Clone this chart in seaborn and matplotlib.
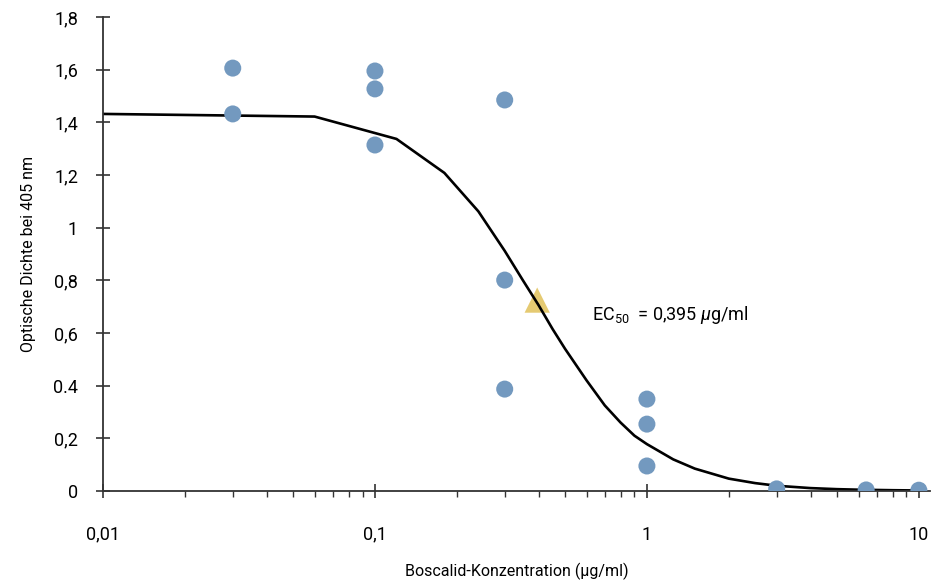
import matplotlib
matplotlib.use("Agg")
import matplotlib.pyplot as plt
import matplotlib.ticker as mticker
import seaborn as sns
import pandas as pd

# measured optical density per concentration (µg/ml)
conc = [0.03, 0.03, 0.1, 0.1, 0.1, 0.3, 0.3, 0.3, 1, 1, 1, 3, 6.4, 10]
od = [1.606, 1.432, 1.595, 1.527, 1.314, 1.485, 0.801, 0.387,
      0.349, 0.254, 0.095, 0.008, 0.004, 0.003]

# fitted dose-response curve
fit_x = [0.01, 0.06, 0.12, 0.18, 0.24, 0.30, 0.35, 0.40, 0.45, 0.50,
         0.60, 0.70, 0.80, 0.90, 1.0, 1.25, 1.5, 2.0, 2.5, 3.0,
         4.0, 5.0, 6.0, 8.0, 10.0]
fit_y = [1.432, 1.422, 1.337, 1.208, 1.062, 0.912, 0.80, 0.705, 0.615, 0.54,
         0.42, 0.325, 0.26, 0.21, 0.178, 0.12, 0.085, 0.047, 0.030, 0.020,
         0.011, 0.007, 0.005, 0.003, 0.002]

ec50_x = [0.395]
ec50_y = [0.725]

y_ticks = [0, 0.2, 0.4, 0.6, 0.8, 1, 1.2, 1.4, 1.6, 1.8]
y_labels = ["0", "0,2", "0.4", "0,6", "0,8", "1", "1,2", "1,4", "1,6", "1,8"]
x_ticks = [0.01, 0.1, 1, 10]
x_labels = ["0,01", "0,1", "1", "10"]

sns.set_style("ticks")
plt.rcParams["font.family"] = ["Roboto", "DejaVu Sans"]
plt.rcParams["mathtext.fontset"] = "custom"
plt.rcParams["mathtext.rm"] = "Roboto"
plt.rcParams["mathtext.it"] = "Roboto:italic"

points = pd.DataFrame({"conc": conc, "od": od})
curve = pd.DataFrame({"conc": fit_x, "od": fit_y})

fig = plt.figure(figsize=(9.32, 5.81), dpi=100)
ax = fig.add_axes([0.1105, 0.1549, 0.8875, 0.8158])

sns.lineplot(data=curve, x="conc", y="od", color="black", linewidth=1.9,
             ax=ax, zorder=2)
sns.scatterplot(data=points, x="conc", y="od", color="#7399bf", s=150,
                edgecolor="none", ax=ax, zorder=3)
sns.scatterplot(x=ec50_x, y=ec50_y, color="#e5ca72", marker="^", s=330,
                edgecolor="none", ax=ax, zorder=1)

ax.set_xscale("log")
ax.set_xlim(0.01, 11)
ax.set_ylim(0, 1.8)
ax.set_xticks(x_ticks)
ax.set_xticklabels(x_labels)
ax.xaxis.set_minor_locator(mticker.LogLocator(base=10, subs=range(2, 10)))
ax.xaxis.set_minor_formatter(mticker.NullFormatter())
ax.set_yticks(y_ticks)
ax.set_yticklabels(y_labels)

for side in ["top", "right"]:
    ax.spines[side].set_visible(False)
for side in ["left", "bottom"]:
    ax.spines[side].set_color("#333333")
    ax.spines[side].set_linewidth(1.3)

ax.tick_params(axis="y", which="major", direction="inout", length=10,
               width=1.2, pad=13, labelsize=13, labelcolor="black",
               color="#333333")
ax.tick_params(axis="x", which="major", direction="inout", length=10,
               width=1.2, pad=20, labelsize=13, labelcolor="black",
               color="#333333")
ax.tick_params(axis="x", which="minor", direction="out", length=4,
               width=1, color="#333333")

ax.set_xlabel("Boscalid-Konzentration (µg/ml)", fontsize=11.5, labelpad=14,
              color="black")
ax.set_ylabel("Optische Dichte bei 405 nm", fontsize=11.5, labelpad=12,
              color="black")

ax.text(0.63, 0.67, r"EC$_{50}$  = 0,395 $\mu$g/ml", fontsize=13,
        va="center", color="black")

fig.savefig("out.png", dpi=100)
